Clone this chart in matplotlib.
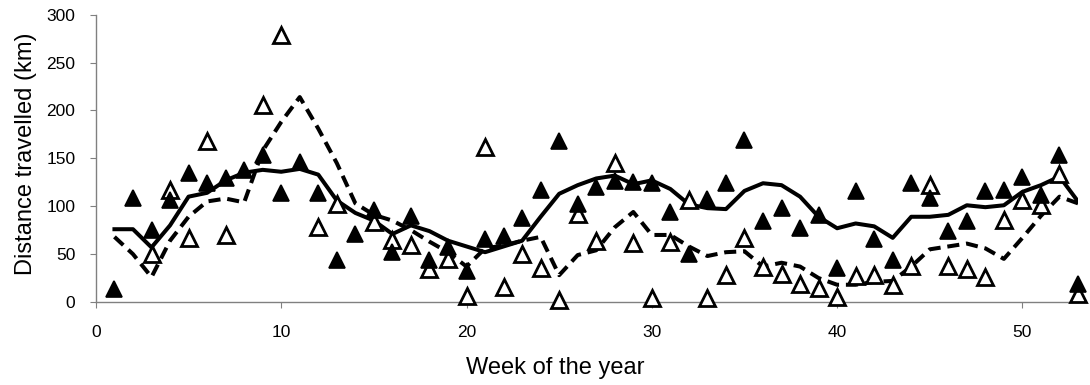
import numpy as np
import matplotlib.pyplot as plt

plt.rcParams['font.family'] = ['Liberation Sans', 'DejaVu Sans']

weeks = np.arange(1, 54)

# weekly distance, filled triangles
dist_a = [14, 109, 75, 107, 135, 124, 129, 138, 153, 114,
          146, 114, 44, 71, 96, 52, 90, 44, 57, 32,
          66, 69, 88, 117, 168, 102, 120, 126, 125, 124,
          94, 50, 108, 124, 169, 85, 98, 77, 91, 35,
          116, 66, 44, 124, 109, 74, 85, 116, 117, 131,
          112, 154, 19]

# weekly distance, open triangles (nan where not recorded)
nan = np.nan
dist_b = [nan, nan, 50, 117, 67, 168, 70, nan, 206, 279,
          nan, 78, 102, nan, 84, 65, 60, 34, 45, 6,
          162, 16, 50, 36, 2, 92, 64, 145, 62, 4,
          63, 106, 4, 28, 67, 37, 29, 19, 15, 5,
          27, 28, 18, 38, 122, 38, 34, 26, 86, 107,
          101, 134, 8]

# running means
trend_a = [76, 76, 57, 80, 110, 114, 127, 135, 138, 136,
           139, 133, 106, 93, 85, 71, 80, 74, 64, 58,
           52, 58, 64, 89, 113, 122, 129, 132, 123, 127,
           118, 102, 98, 97, 116, 124, 122, 110, 89, 77,
           82, 79, 67, 89, 89, 91, 101, 99, 101, 115,
           122, 131, 105]

trend_b = [68, 50, 26, 64, 89, 105, 108, 104, 158, 188,
           214, 181, 145, 103, 91, 85, 75, 63, 52, 37,
           56, 59, 64, 68, 28, 49, 54, 78, 94, 70,
           70, 58, 48, 52, 53, 37, 41, 37, 25, 18,
           18, 21, 22, 37, 55, 58, 61, 56, 45, 67,
           90, 110, 103]

fig = plt.figure(figsize=(10.9, 3.85), dpi=100)
ax = fig.add_axes([0.088, 0.2156, 0.901, 0.7462])

ax.plot(weeks, trend_a, color='black', lw=2.9, zorder=2)
ax.plot(weeks, trend_b, color='black', lw=2.9, dashes=(3, 1.7), zorder=2)
ax.plot(weeks, dist_b, '^', ms=11, mfc='white', mec='black', mew=2.0,
        ls='none', zorder=3, clip_on=False)
ax.plot(weeks, dist_a, '^', ms=11, mfc='black', mec='black', mew=1.2,
        ls='none', zorder=4, clip_on=False)

ax.set_xlim(0, 53)
ax.set_ylim(0, 300)
ax.set_xticks([0, 10, 20, 30, 40, 50])
ax.set_yticks([0, 50, 100, 150, 200, 250, 300])

for side in ['top', 'right']:
    ax.spines[side].set_visible(False)
for side in ['left', 'bottom']:
    ax.spines[side].set_color('#808080')
    ax.spines[side].set_linewidth(1.0)

ax.tick_params(axis='y', direction='out', length=4.3, color='#808080',
               labelsize=12.5, pad=10.5)
ax.tick_params(axis='x', direction='out', length=4.5, color='#808080',
               labelsize=12.5, pad=12)

ax.set_xlabel('Week of the year', fontsize=17)
ax.set_ylabel('Distance travelled (km)', fontsize=17)
ax.xaxis.set_label_coords(0.468, -0.19)
ax.yaxis.set_label_coords(-0.06, 0.517)

fig.savefig('out.png', dpi=100)
